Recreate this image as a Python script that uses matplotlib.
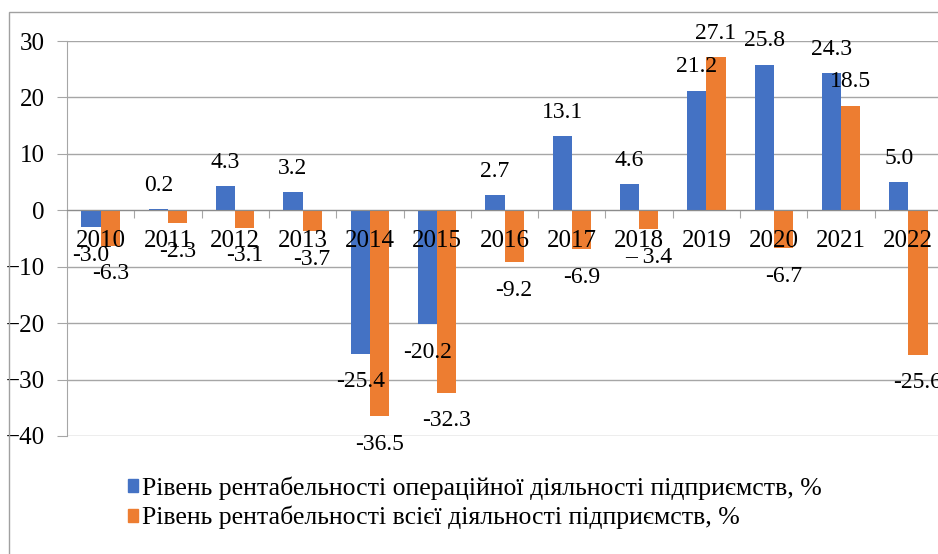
import matplotlib
matplotlib.use("Agg")
import matplotlib.pyplot as plt
from matplotlib.patches import Patch, Rectangle
import numpy as np

years = ["2010", "2011", "2012", "2013", "2014", "2015", "2016",
         "2017", "2018", "2019", "2020", "2021", "2022"]
operating = [-3.0, 0.2, 4.3, 3.2, -25.4, -20.2, 2.7, 13.1, 4.6, 21.2, 25.8, 24.3, 5.0]
total = [-6.3, -2.3, -3.1, -3.7, -36.5, -32.3, -9.2, -6.9, -3.4, 27.1, -6.7, 18.5, -25.6]
total_text = ["-6.3", "-2.3", "-3.1", "-3.7", "-36.5", "-32.3", "-9.2",
              "-6.9", "\u2013 3.4", "27.1", "-6.7", "18.5", "-25.6"]
series_names = ["Рівень рентабельності операційної діяльності підприємств, %",
                "Рівень рентабельності всієї діяльності підприємств, %"]

BLUE = "#4472C4"
ORANGE = "#ED7D31"
GRID = "#a6a6a6"

plt.rcParams["font.family"] = ["Liberation Serif", "DejaVu Serif"]

W, H = 938, 554
fig = plt.figure(figsize=(W / 100, H / 100), dpi=100)
ax = fig.add_axes([67 / W, 1 - 436 / H, (942 - 67) / W, (436 - 41) / H])

x = np.arange(len(years))
bw = 0.285
b1 = ax.bar(x - bw / 2, operating, bw, color=BLUE, zorder=3)
b2 = ax.bar(x + bw / 2, total, bw, color=ORANGE, zorder=3)

ax.set_xlim(-0.5, len(years) - 0.5)
ax.set_ylim(-40, 30)
ax.set_yticks(range(-40, 31, 10))
ax.yaxis.grid(True, color=GRID, linewidth=1, zorder=0)
ax.tick_params(axis="y", length=7, color=GRID, labelsize=18, pad=9)

for s in ["top", "right"]:
    ax.spines[s].set_visible(False)
ax.spines["left"].set_color(GRID)
ax.spines["bottom"].set_position(("data", 0))
ax.spines["bottom"].set_color("#8c8c8c")
ax.spines["bottom"].set_zorder(4)

# year labels drawn as text so they sit on top of the bars
ax.set_xticks(np.arange(len(years) + 1) - 0.5)
ax.set_xticklabels([])
ax.tick_params(axis="x", length=6, color=GRID)
for xi, yr in zip(x, years):
    ax.annotate(yr, (xi, 0), xytext=(0, -31), textcoords="offset pixels",
                ha="center", va="center", fontsize=18, zorder=5)


def label_bars(bars, texts):
    for rect, txt in zip(bars, texts):
        v = rect.get_height()
        cx = rect.get_x() + rect.get_width() / 2
        off = 24 if v >= 0 else -28
        ax.annotate(txt, (cx, v), xytext=(0, off), textcoords="offset pixels",
                    ha="center", va="center", fontsize=17, zorder=5)


label_bars(b1, [f"{v:.1f}" for v in operating])
label_bars(b2, total_text)

fig.add_artist(Rectangle((9 / W, -0.05), 1.1, 1 - 12 / H + 0.05, transform=fig.transFigure,
                         fill=False, edgecolor="#a0a0a0", linewidth=1))

handles = [Patch(color=BLUE), Patch(color=ORANGE)]
fig.legend(handles, series_names, loc="upper left", bbox_to_anchor=(128 / W, 1 - 476 / H),
           frameon=False, fontsize=18.5, handlelength=0.4, handleheight=0.4,
           handletextpad=0.15, labelspacing=0.25, borderaxespad=0, borderpad=0)

fig.savefig("out.png", dpi=100)
